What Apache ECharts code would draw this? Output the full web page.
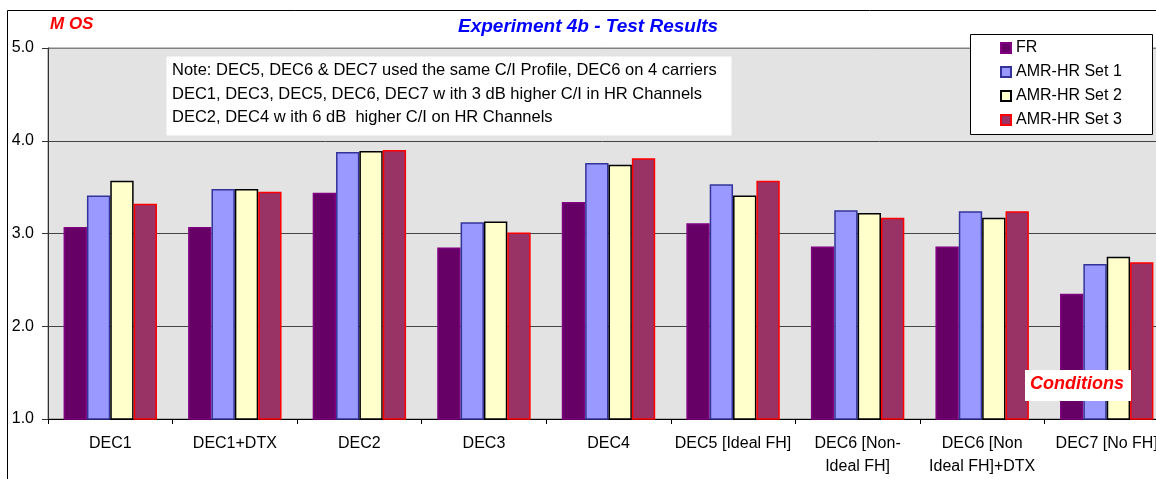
<!DOCTYPE html>
<html>
<head>
<meta charset="utf-8">
<title>Experiment 4b - Test Results</title>
<script src="https://cdn.jsdelivr.net/npm/echarts@6/dist/echarts.min.js"></script>
<style>
  html, body { margin: 0; padding: 0; background: #fff; }
  #main { width: 1156px; height: 479px; }
</style>
</head>
<body>
<div id="main"></div>
<script>
var categories = ['DEC1', 'DEC1+DTX', 'DEC2', 'DEC3', 'DEC4', 'DEC5 [Ideal FH]',
    'DEC6 [Non-\nIdeal FH]', 'DEC6 [Non\nIdeal FH]+DTX', 'DEC7 [No FH]'];
var seriesNames = ['FR', 'AMR-HR Set 1', 'AMR-HR Set 2', 'AMR-HR Set 3'];
var fr   = [3.07, 3.07, 3.44, 2.85, 3.34, 3.11, 2.86, 2.86, 2.35];
var set1 = [3.41, 3.48, 3.88, 3.12, 3.76, 3.53, 3.25, 3.24, 2.67];
var set2 = [3.57, 3.48, 3.89, 3.13, 3.74, 3.41, 3.22, 3.17, 2.75];
var set3 = [3.32, 3.45, 3.90, 3.01, 3.81, 3.57, 3.17, 3.24, 2.69];
var yMin = 1, yMax = 5, yStep = 1;
var noteLines = [
    'Note: DEC5, DEC6 & DEC7 used the same C/I Profile, DEC6 on 4 carriers',
    'DEC1, DEC3, DEC5, DEC6, DEC7 w ith 3 dB higher C/I in HR Channels',
    'DEC2, DEC4 w ith 6 dB  higher C/I on HR Channels'
];

var font = '"Liberation Sans", Arial, sans-serif';
var fills = ['#660066', '#9999ff', '#ffffcc', '#993366'];
var borders = ['#800080', '#333399', '#000000', '#ff0000'];

function bar(i, data) {
    return {
        name: seriesNames[i],
        type: 'bar',
        data: data,
        barGap: '0%',
        barCategoryGap: '25%',
        itemStyle: { color: fills[i], borderColor: borders[i], borderWidth: 1.5 }
    };
}

var myChart = echarts.init(document.getElementById('main'));

// plot area runs past the right edge, the picture is cut there
var option = {
    animation: false,
    textStyle: { fontFamily: font },
    grid: {
        left: 48, top: 48, width: 1121, height: 371,
        outerBoundsMode: 'none',
        show: true, backgroundColor: '#e3e3e3',
        borderColor: '#808080', borderWidth: 1
    },
    legend: {
        orient: 'vertical',
        left: 1000, top: 40, padding: 0,
        itemWidth: 10, itemHeight: 10, itemGap: 8,
        icon: 'rect',
        textStyle: { fontSize: 16, color: '#000', lineHeight: 14, fontFamily: font },
        data: seriesNames,
        z: 10
    },
    xAxis: {
        type: 'category',
        data: categories,
        axisLine: { lineStyle: { color: '#000', width: 1 } },
        axisTick: { show: true, length: 5, lineStyle: { color: '#000' } },
        axisLabel: {
            interval: 0, color: '#000', fontSize: 16, lineHeight: 23,
            margin: 13, fontFamily: font
        }
    },
    yAxis: {
        type: 'value',
        min: yMin, max: yMax, interval: yStep,
        axisLine: { show: true, lineStyle: { color: '#333', width: 1 } },
        axisTick: { show: true, length: 6, lineStyle: { color: '#333' } },
        axisLabel: {
            color: '#000', fontSize: 16, margin: 14, fontFamily: font,
            formatter: function (v) { return v.toFixed(1); }
        },
        splitLine: { lineStyle: { color: ['#000', '#444', '#444', '#444', '#808080'], width: 1 } }
    },
    graphic: [
        {
            type: 'rect', z: 0, silent: true,
            shape: { x: 7.5, y: 10.5, width: 2000, height: 1000 },
            style: { fill: null, stroke: '#000', lineWidth: 1 }
        },
        {
            type: 'text', left: 458, top: 17, z: 10,
            style: {
                text: 'Experiment 4b - Test Results', fill: '#0000ff',
                font: 'italic bold 19px ' + font
            }
        },
        {
            type: 'text', left: 50, top: 16, z: 10,
            style: { text: 'M OS', fill: '#ff0000', font: 'italic bold 17px ' + font }
        },
        {
            type: 'rect', z: 5, silent: true,
            shape: { x: 166.5, y: 56.5, width: 565, height: 79 },
            style: { fill: '#fff', stroke: null }
        },
        {
            type: 'text', left: 172, top: 59, z: 6,
            style: {
                text: noteLines.join('\n'), fill: '#000',
                font: '16.5px ' + font, lineHeight: 23.5
            }
        },
        {
            type: 'rect', z: 5, silent: true,
            shape: { x: 970.5, y: 34.5, width: 182, height: 100 },
            style: { fill: '#fff', stroke: '#000', lineWidth: 1 }
        },
        {
            type: 'rect', z: 5, silent: true,
            shape: { x: 1025, y: 370, width: 106, height: 31 },
            style: { fill: '#fff', stroke: null }
        },
        {
            type: 'text', left: 1030, top: 375, z: 6,
            style: { text: 'Conditions', fill: '#ff0000', font: 'italic bold 18px ' + font }
        }
    ],
    series: [bar(0, fr), bar(1, set1), bar(2, set2), bar(3, set3)]
};

myChart.setOption(option);
</script>
</body>
</html>
